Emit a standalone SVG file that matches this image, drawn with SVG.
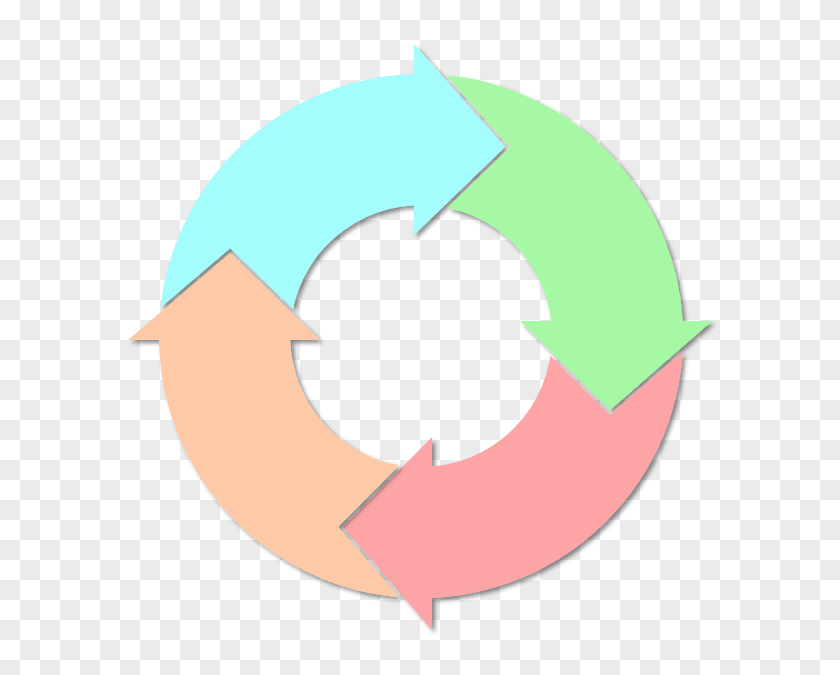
<svg xmlns="http://www.w3.org/2000/svg" width="840" height="675" viewBox="0 0 840 675">
  <defs>
    <pattern id="checker" patternUnits="userSpaceOnUse" width="40" height="40">
      <rect width="40" height="40" fill="#ffffff"/>
      <rect x="20" y="0" width="20" height="20" fill="#ebebeb"/>
      <rect x="0" y="20" width="20" height="20" fill="#ebebeb"/>
    </pattern>
    <filter id="shadow" x="-10%" y="-10%" width="130%" height="130%">
      <feDropShadow dx="3" dy="3" stdDeviation="2" flood-color="#000" flood-opacity="0.45"/>
    </filter>
    <mask id="cut-green" maskUnits="userSpaceOnUse" x="0" y="0" width="840" height="675">
      <rect width="840" height="675" fill="#fff"/>
      <polygon class="cut" points="414,44 505,147 414,235"/>
    </mask>
    <mask id="cut-pink" maskUnits="userSpaceOnUse" x="0" y="0" width="840" height="675">
      <rect width="840" height="675" fill="#fff"/>
      <polygon class="cut" points="712,321 610,410 520,321"/>
    </mask>
    <mask id="cut-orange" maskUnits="userSpaceOnUse" x="0" y="0" width="840" height="675">
      <rect width="840" height="675" fill="#fff"/>
      <polygon class="cut" points="432,630 343,527 432,437"/>
    </mask>
    <mask id="cut-cyan" maskUnits="userSpaceOnUse" x="0" y="0" width="840" height="675">
      <rect width="840" height="675" fill="#fff"/>
      <polygon class="cut" points="128,340 230,253 320,340"/>
    </mask>
  </defs>
  <style>
    .cut { fill: #000; stroke: #000; stroke-width: 7; stroke-linejoin: miter; }
    .arrow { filter: url(#shadow); }
  </style>
  <rect width="840" height="675" fill="url(#checker)"/>

  <g id="arrow-cyan" class="arrow">
    <g mask="url(#cut-cyan)">
      <path fill="#a5fcfc" d="M 159,340 A 262 262 0 0 1 414,74.1 L 414,44 L 505,147 L 414,235 L 414,205.2 A 131 131 0 0 0 290.1,340 Z"/>
    </g>
  </g>
  <g id="arrow-green" class="arrow">
    <g mask="url(#cut-green)">
      <path fill="#a7f8a5" d="M 414,74.1 A 262 262 0 0 1 682.6,321 L 712,321 L 610,410 L 520,321 L 551.1,321 A 131 131 0 0 0 414,205.2 Z"/>
    </g>
  </g>
  <g id="arrow-pink" class="arrow">
    <g mask="url(#cut-pink)">
      <path fill="#fda5a6" d="M 682.6,321 A 262 262 0 0 1 432,597.8 L 432,630 L 343,527 L 432,437 L 432,466.5 A 131 131 0 0 0 551.1,321 Z"/>
    </g>
  </g>
  <g id="arrow-orange" class="arrow">
    <g mask="url(#cut-orange)">
      <path fill="#fdc9a6" d="M 432,597.8 A 262 262 0 0 1 159,340 L 128,340 L 230,253 L 320,340 L 290.1,340 A 131 131 0 0 0 432,466.5 Z"/>
    </g>
  </g>
</svg>
